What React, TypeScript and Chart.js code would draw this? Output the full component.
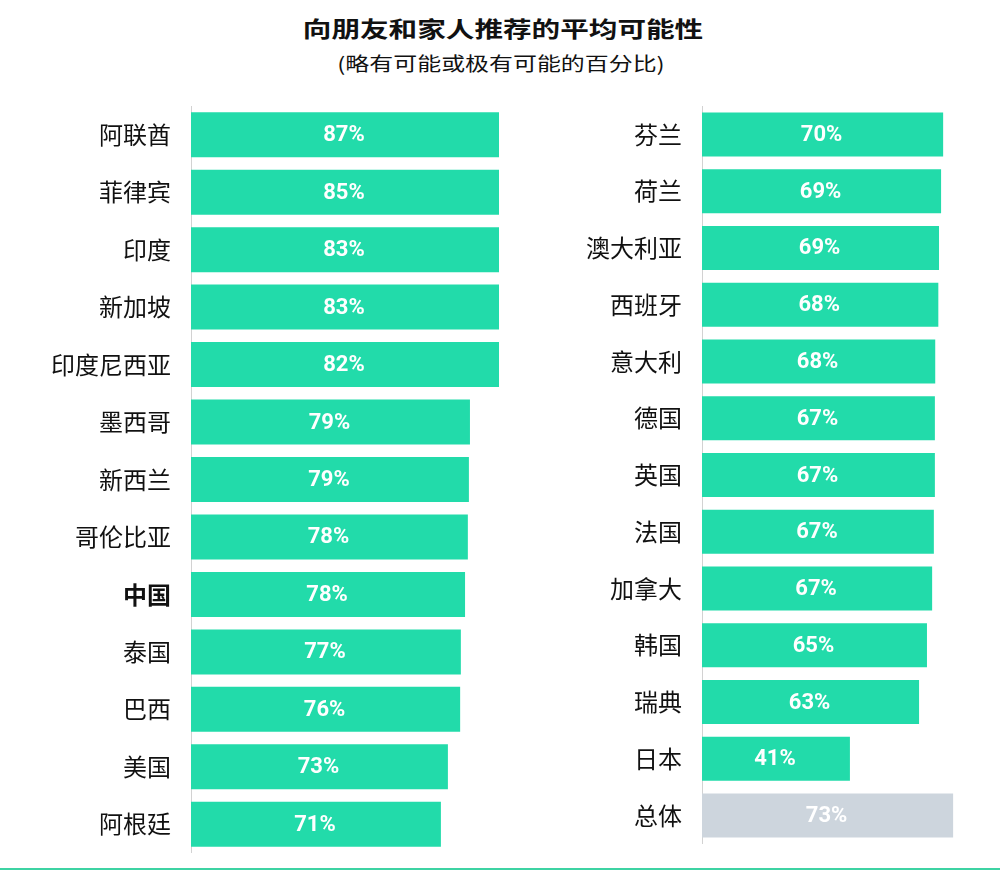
import React, { useEffect, useRef } from 'react';
import { Chart, registerables } from 'chart.js';

Chart.register(...registerables);

const titleText = '向朋友和家人推荐的平均可能性';
const subtitleText = '(略有可能或极有可能的百分比)';

const leftCategories = ['阿联酋', '菲律宾', '印度', '新加坡', '印度尼西亚', '墨西哥', '新西兰', '哥伦比亚', '中国', '泰国', '巴西', '美国', '阿根廷'];
const leftLabels = ['87%', '85%', '83%', '83%', '82%', '79%', '79%', '78%', '78%', '77%', '76%', '73%', '71%'];
const leftBarValues = [88.0, 88.0, 88.0, 88.0, 88.0, 79.7, 79.4, 79.1, 78.3, 77.1, 76.9, 73.4, 71.4];
const leftBold = ['中国'];

const rightCategories = ['芬兰', '荷兰', '澳大利亚', '西班牙', '意大利', '德国', '英国', '法国', '加拿大', '韩国', '瑞典', '日本', '总体'];
const rightLabels = ['70%', '69%', '69%', '68%', '68%', '67%', '67%', '67%', '67%', '65%', '63%', '41%', '73%'];
const rightBarValues = [70.1, 69.5, 68.9, 68.7, 67.8, 67.7, 67.7, 67.4, 66.9, 65.4, 63.1, 43.0, 73.0];
const rightTotalCategory = '总体';

const GREEN = '#22dbaa';
const GREY = '#cdd5dd';
const CJK = "'Noto Sans CJK SC', 'Noto Sans', sans-serif";

function valueLabelPlugin(labels: string[]) {
  return {
    id: 'valueLabels',
    afterDatasetsDraw(chart: any) {
      const ctx = chart.ctx;
      const meta = chart.getDatasetMeta(0);
      ctx.save();
      ctx.font = 'bold 22px Roboto, sans-serif';
      ctx.fillStyle = '#ffffff';
      ctx.textAlign = 'center';
      ctx.textBaseline = 'middle';
      meta.data.forEach((el: any, i: number) => {
        const p = el.getProps(['x', 'y', 'base'], true);
        ctx.fillText(labels[i], (p.x + p.base) / 2 - 1, p.y + 1);
      });
      ctx.restore();
    },
  };
}

function makeConfig(
  categories: string[],
  values: number[],
  labels: string[],
  colors: string[],
  xMax: number,
  barPct: number,
  axisWidth: number,
  bold: string[]
): any {
  return {
    type: 'bar',
    data: {
      labels: categories,
      datasets: [
        {
          data: values,
          backgroundColor: colors,
          borderWidth: 0,
          barPercentage: barPct,
          categoryPercentage: 1,
        },
      ],
    },
    options: {
      indexAxis: 'y',
      responsive: false,
      animation: false,
      events: [],
      layout: { padding: 0, autoPadding: false },
      plugins: { legend: { display: false }, tooltip: { enabled: false }, title: { display: false } },
      scales: {
        x: { display: false, min: 0, max: xMax },
        y: {
          position: 'left',
          grid: { display: false, drawTicks: false },
          border: { display: true, color: '#d2d2d2', width: 1 },
          ticks: {
            color: '#111111',
            padding: 20,
            font: (c: any) => ({
              family: CJK,
              size: 24,
              weight: bold.includes(categories[c.index]) ? 'bold' : 'normal',
            }),
          },
          afterFit: (s: any) => {
            s.width = axisWidth;
            s.paddingTop = 0;
            s.paddingBottom = 0;
          },
        },
      },
    },
    plugins: [valueLabelPlugin(labels)],
  };
}

export default function App() {
  const leftRef = useRef<HTMLCanvasElement>(null);
  const rightRef = useRef<HTMLCanvasElement>(null);

  useEffect(() => {
    const leftColors = leftCategories.map(() => GREEN);
    const rightColors = rightCategories.map((c) => (c === rightTotalCategory ? GREY : GREEN));
    const left = new Chart(
      leftRef.current as HTMLCanvasElement,
      makeConfig(leftCategories, leftBarValues, leftLabels, leftColors, 350 / 3.5, 45 / 57.46, 191, leftBold)
    );
    const right = new Chart(
      rightRef.current as HTMLCanvasElement,
      makeConfig(rightCategories, rightBarValues, rightLabels, rightColors, 298 / 3.44, 44 / 56.75, 182, [])
    );
    return () => {
      left.destroy();
      right.destroy();
    };
  }, []);

  return (
    <div style={{ position: 'absolute', left: 0, top: 0, width: 1000, height: 870, background: '#fff', overflow: 'hidden' }}>
      <div
        style={{
          position: 'absolute',
          left: 3,
          top: 16,
          width: 1000,
          textAlign: 'center',
          fontFamily: CJK,
          fontWeight: 700,
          fontSize: 22,
          lineHeight: '22px',
          color: '#111',
          transform: 'scaleX(1.3)',
          whiteSpace: 'nowrap',
        }}
      >
        {titleText}
      </div>
      <div
        style={{
          position: 'absolute',
          left: 1,
          top: 53,
          width: 1000,
          textAlign: 'center',
          fontFamily: CJK,
          fontWeight: 400,
          fontSize: 19,
          lineHeight: '19px',
          color: '#111',
          transform: 'scaleX(1.26)',
          whiteSpace: 'nowrap',
        }}
      >
        {subtitleText}
      </div>
      <canvas ref={leftRef} width={541} height={747} style={{ position: 'absolute', left: 0, top: 106 }} />
      <canvas ref={rightRef} width={480} height={738} style={{ position: 'absolute', left: 520, top: 106 }} />
      <div style={{ position: 'absolute', left: 0, top: 868, width: 1000, height: 2, background: '#3dd3a3' }} />
    </div>
  );
}
